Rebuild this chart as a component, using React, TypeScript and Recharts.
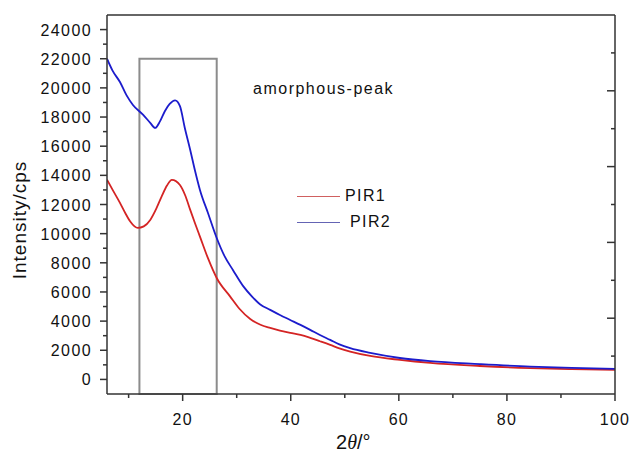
import { LineChart, Line, XAxis, YAxis, ReferenceArea, Legend } from "recharts"

// 2θ positions and intensities
const pir1Theta = [6, 7.2, 8.4, 9.4, 10.3, 11.7, 12.8, 14, 15.1, 16.1, 17.1, 18, 19.5, 20.5, 21.4, 22.3, 23.2, 24.7, 26.3, 28.8, 30.5, 32.5, 34.4, 36.2, 38, 39.9, 41.8, 43.6, 45.4, 47.3, 49, 51, 54.7, 60.2, 65.8, 75, 84.3, 92, 100]
const pir1Counts = [13700, 12900, 12110, 11400, 10830, 10390, 10500, 10940, 11700, 12540, 13300, 13690, 13340, 12600, 11630, 10700, 9800, 8300, 6960, 5680, 4850, 4150, 3750, 3530, 3350, 3190, 3050, 2850, 2620, 2370, 2130, 1910, 1610, 1340, 1130, 920, 770, 700, 650]

const pir2Theta = [6, 7, 8.4, 9.6, 10.8, 12.7, 14, 14.9, 15.8, 16.7, 17.6, 18.6, 19.5, 20.4, 21.4, 22.3, 23.2, 24.7, 26.3, 27.8, 29.3, 31.2, 32.8, 34.3, 36.2, 38, 39.9, 41.8, 43.6, 45.4, 47.3, 49, 51, 54.7, 60.2, 65.8, 75, 84.3, 92, 100]
const pir2Counts = [22000, 21200, 20400, 19500, 18830, 18150, 17600, 17250, 17700, 18400, 18900, 19150, 18750, 17250, 15740, 14300, 13000, 11400, 9700, 8420, 7510, 6400, 5700, 5160, 4770, 4420, 4080, 3740, 3400, 3050, 2710, 2400, 2140, 1820, 1470, 1250, 1050, 880, 790, 720]

const xTicks = [10, 20, 30, 40, 50, 60, 70, 80, 90, 100]
const yTicks = [0, 1000, 2000, 3000, 4000, 5000, 6000, 7000, 8000, 9000, 10000, 11000, 12000, 13000, 14000, 15000, 16000, 17000, 18000, 19000, 20000, 21000, 22000, 23000, 24000]
const frameTicks = [1, 2, 3, 4, 5, 6, 7, 8, 9]

const pir1 = pir1Theta.map((x, i) => ({ x, y: pir1Counts[i] }))
const pir2 = pir2Theta.map((x, i) => ({ x, y: pir2Counts[i] }))

const AXIS = "#333"
const FONT = "'Liberation Sans', Arial, sans-serif"

const BottomTick = ({ x, y, payload }: any) => {
  const major = payload.value % 20 === 0
  return (
    <g>
      <line x1={x} x2={x} y1={y} y2={y + (major ? 7 : 4)} stroke={AXIS} strokeWidth={1.5} />
      {major && (
        <text x={x} y={y + 31} textAnchor="middle" fontSize={16} letterSpacing={1.2} fill="#111" fontFamily={FONT}>
          {payload.value}
        </text>
      )}
    </g>
  )
}

const LeftTick = ({ x, y, payload }: any) => {
  const major = payload.value % 2000 === 0
  return (
    <g>
      <line x1={x} x2={x - (major ? 7 : 4)} y1={y} y2={y} stroke={AXIS} strokeWidth={1.5} />
      {major && (
        <text x={x - 15} y={y + 6} textAnchor="end" fontSize={16} letterSpacing={1.4} fill="#111" fontFamily={FONT}>
          {payload.value}
        </text>
      )}
    </g>
  )
}

const TopTick = ({ x, y, payload }: any) => (
  <line x1={x} x2={x} y1={y} y2={y + (payload.value % 2 === 0 ? 8 : 5)} stroke={AXIS} strokeWidth={1.5} />
)

const RightTick = ({ x, y, payload }: any) => (
  <line x1={x} x2={x - (payload.value % 2 === 0 ? 8 : 4)} y1={y} y2={y} stroke={AXIS} strokeWidth={1.5} />
)

const LegendBox = () => (
  <div style={{ fontFamily: FONT, fontSize: 16, letterSpacing: 1.4, color: "#111", position: "relative", width: 110, height: 45 }}>
    <div style={{ position: "absolute", left: 0, top: 9, width: 43, borderTop: "1px solid #d06060" }} />
    <div style={{ position: "absolute", left: 48, top: 0 }}>PIR1</div>
    <div style={{ position: "absolute", left: 0, top: 35, width: 43, borderTop: "1px solid #6464b4" }} />
    <div style={{ position: "absolute", left: 53, top: 26 }}>PIR2</div>
  </div>
)

export default function App() {
  return (
    <div style={{ position: "absolute", left: 0, top: 0, width: 632, height: 463, background: "#fff" }}>
      <LineChart width={632} height={463} margin={{ top: 10, right: 7, bottom: 39, left: 47 }}>
        <XAxis
          xAxisId="main"
          dataKey="x"
          type="number"
          domain={[6, 100]}
          ticks={xTicks}
          interval={0}
          allowDataOverflow
          height={30}
          stroke={AXIS}
          strokeWidth={1.5}
          tickSize={0}
          tickMargin={0}
          tickLine={false}
          tick={(p: any) => <BottomTick {...p} />}
        />
        <XAxis
          xAxisId="top"
          orientation="top"
          type="number"
          domain={[0, 10]}
          ticks={frameTicks}
          interval={0}
          allowDataOverflow
          height={5}
          stroke={AXIS}
          strokeWidth={1.5}
          tickSize={0}
          tickMargin={0}
          tickLine={false}
          tick={(p: any) => <TopTick {...p} />}
        />
        <YAxis
          yAxisId="main"
          type="number"
          domain={[-1000, 25000]}
          ticks={yTicks}
          interval={0}
          allowDataOverflow
          width={60}
          stroke={AXIS}
          strokeWidth={1.5}
          tickSize={0}
          tickMargin={0}
          tickLine={false}
          tick={(p: any) => <LeftTick {...p} />}
        />
        <YAxis
          yAxisId="right"
          orientation="right"
          type="number"
          domain={[0, 10]}
          ticks={frameTicks}
          interval={0}
          allowDataOverflow
          width={10}
          stroke={AXIS}
          strokeWidth={1.5}
          tickSize={0}
          tickMargin={0}
          tickLine={false}
          tick={(p: any) => <RightTick {...p} />}
        />
        <ReferenceArea
          xAxisId="main"
          yAxisId="main"
          x1={12}
          x2={26.3}
          y1={-1000}
          y2={22000}
          fill="none"
          stroke="#8c8c8c"
          strokeWidth={2}
          ifOverflow="visible"
        />
        <Line
          xAxisId="main"
          yAxisId="main"
          data={pir1}
          dataKey="y"
          name="PIR1"
          type="monotone"
          stroke="#d42424"
          strokeWidth={1.8}
          dot={false}
          isAnimationActive={false}
        />
        <Line
          xAxisId="main"
          yAxisId="main"
          data={pir2}
          dataKey="y"
          name="PIR2"
          type="monotone"
          stroke="#1c1ccc"
          strokeWidth={1.8}
          dot={false}
          isAnimationActive={false}
        />
        <Legend
          layout="horizontal"
          verticalAlign="middle"
          align="center"
          content={() => <LegendBox />}
          wrapperStyle={{ position: "absolute", left: 297, top: 187, width: 110, height: 45 }}
        />
      </LineChart>

      <div style={{ position: "absolute", left: 253, top: 80, fontFamily: FONT, fontSize: 16, letterSpacing: 1.5, color: "#111", whiteSpace: "nowrap" }}>
        amorphous-peak
      </div>
      <div
        style={{
          position: "absolute",
          left: 20,
          top: 220,
          transform: "translate(-50%, -50%) rotate(-90deg)",
          fontFamily: FONT,
          fontSize: 19,
          letterSpacing: 1,
          color: "#111",
          whiteSpace: "nowrap",
        }}
      >
        Intensity/cps
      </div>
      <div style={{ position: "absolute", left: 336, top: 431, fontFamily: FONT, fontSize: 20, color: "#111", whiteSpace: "nowrap" }}>
        2<span style={{ fontFamily: "'Liberation Serif', serif", fontStyle: "italic" }}>θ</span>/°
      </div>
    </div>
  )
}
